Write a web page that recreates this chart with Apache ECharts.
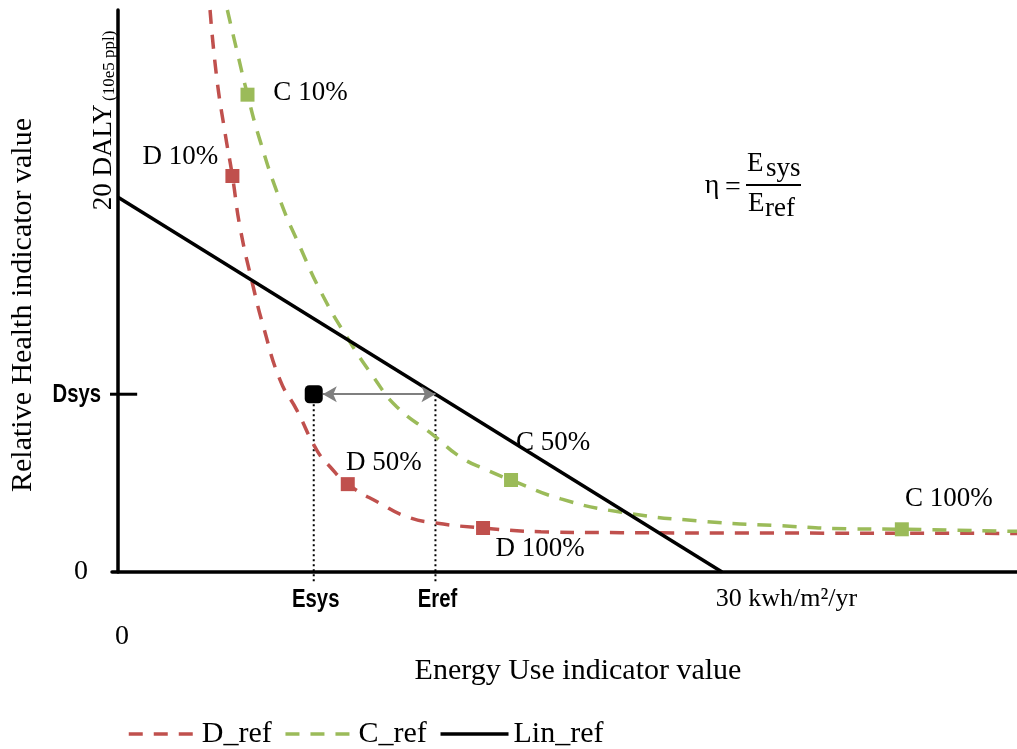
<!DOCTYPE html>
<html><head><meta charset="utf-8">
<script src="https://cdn.jsdelivr.net/npm/echarts@6/dist/echarts.min.js"></script>
<style>html,body{margin:0;padding:0;background:#fff}#c{width:1017px;height:749px}</style>
</head><body><div id="c"></div>
<script>
// ---- data ----
const dRefX = [4.57, 4.90, 5.32, 5.68, 6.06, 6.72, 7.22, 8.05, 8.88, 9.87, 10.53, 11.41, 13.02, 14.34, 15.66, 18.13, 21.0, 25.0, 32.0, 44.65];
const dRefY = [30.0, 26.4, 23.4, 21.14, 18.4, 15.2, 13.1, 10.24, 8.64, 6.51, 5.62, 4.69, 3.66, 2.95, 2.63, 2.35, 2.15, 2.10, 2.08, 2.06];
const cRefX = [5.43, 5.90, 6.43, 7.05, 8.05, 9.04, 10.12, 11.36, 12.68, 13.84, 15.66, 16.99, 18.32, 19.52, 22.0, 24.94, 28.9, 32.9, 36.4, 38.93, 44.65];
const cRefY = [30.0, 27.84, 25.48, 23.04, 19.84, 17.35, 14.86, 12.55, 10.42, 8.82, 7.31, 6.15, 5.44, 4.91, 3.9, 3.2, 2.72, 2.47, 2.30, 2.28, 2.17];
const linX = [0, 30];
const linY = [20, 0];

const dMarkX = [5.68, 11.41, 18.13];
const dMarkY = [21.14, 4.69, 2.35];
const dMarkLabels = ['D 10%', 'D 50%', 'D 100%'];
const cMarkX = [6.43, 19.52, 38.93];
const cMarkY = [25.48, 4.91, 2.28];
const cMarkLabels = ['C 10%', 'C 50%', 'C 100%'];

const Esys = 9.72;
const Dsys = 9.49;
// Eref: energy at which Lin_ref reaches Dsys
const Eref = linX[0] + (linY[0] - Dsys) / (linY[0] - linY[1]) * (linX[1] - linX[0]);

const xTickValues = [0, Esys, Eref, 30];
const xTickLabels = ['0', 'Esys', 'Eref', '30 kwh/m²/yr'];
const yTickValues = [0, Dsys];
const yTickLabels = ['0', 'Dsys'];
const yTopValue = 20;
const yTopLabel = '20 DALY';
const yTopUnit = '(10e5 ppl)';
const seriesNames = ['D_ref', 'C_ref', 'Lin_ref'];

// ---- styles ----
const SERIF = "'Liberation Serif','Times New Roman',serif";
const SANS = "'Liberation Sans Narrow','Liberation Sans',Arial,sans-serif";
const RED = '#C0504D', GREEN = '#9BBB59';
const DASH = [14, 11];
const labelOffsets = {
  'D 10%': [-52, -19], 'D 50%': [36, -21], 'D 100%': [57, 21],
  'C 10%': [63, -2], 'C 50%': [42, -37], 'C 100%': [47, -30]
};
// labels drawn in the reference's narrow bold face (drawn as condensed graphic text)
const narrowLabels = {'Esys': 1, 'Eref': 1, 'Dsys': 1};

function nearestIdx(arr, v) {
  let bi = 0, bd = Infinity;
  arr.forEach((a, i) => { const d = Math.abs(a - v); if (d < bd) { bd = d; bi = i; } });
  return bi;
}
const pairs = (xs, ys) => xs.map((x, i) => [x, ys[i]]);
const markData = (xs, ys, names) => xs.map((x, i) => ({
  value: [x, ys[i]], name: names[i], label: {offset: labelOffsets[names[i]]}
}));

const chart = echarts.init(document.getElementById('c'), null, {renderer: 'canvas'});
chart.setOption({
  animation: false,
  backgroundColor: '#fff',
  grid: {left: 112, right: 0, top: 10, bottom: 177, containLabel: false, outerBoundsMode: 'none'},
  legend: {
    data: [
      {name: seriesNames[0], lineStyle: {type: DASH, width: 3.5, color: RED}},
      {name: seriesNames[1], lineStyle: {type: DASH, width: 3.5, color: GREEN}},
      {name: seriesNames[2], lineStyle: {type: 'solid', width: 3.5, color: '#000'}}
    ],
    left: 127, top: 719, padding: 0, itemWidth: 68, itemHeight: 14, itemGap: 12,
    itemStyle: {opacity: 0},
    textStyle: {fontFamily: SERIF, fontSize: 30, color: '#000'}
  },
  xAxis: {
    type: 'value', min: -0.3, max: 44.65,
    name: 'Energy Use indicator value', nameLocation: 'middle', nameGap: 68,
    nameTextStyle: {fontFamily: SERIF, fontSize: 30, color: '#000', padding: [0, 0, 0, 27]},
    axisLine: {show: true, onZero: true, lineStyle: {color: '#000', width: 3.5}},
    axisTick: {show: false}, splitLine: {show: false},
    axisLabel: {
      customValues: xTickValues, margin: 14, color: '#000',
      formatter: v => {
        const t = xTickLabels[nearestIdx(xTickValues, v)];
        if (narrowLabels[t]) return '';
        return (t === '0' ? '{z|' : '{k|') + t + '}';
      },
      rich: {
        z: {fontFamily: SERIF, fontSize: 28, color: '#000', padding: [37, 0, 0, 8]},
        k: {fontFamily: SERIF, fontSize: 26, color: '#000', padding: [0, 0, 0, 129]}
      }
    }
  },
  yAxis: {
    type: 'value', min: 0, max: 30,
    name: 'Relative Health indicator value', nameLocation: 'middle', nameGap: 74,
    nameTextStyle: {fontFamily: SERIF, fontSize: 30, color: '#000', padding: [0, 28, 0, 0]},
    axisLine: {show: true, onZero: true, lineStyle: {color: '#000', width: 3.5}},
    axisTick: {show: false}, splitLine: {show: false},
    axisLabel: {
      customValues: yTickValues, margin: 16, color: '#000',
      formatter: v => {
        const t = yTickLabels[nearestIdx(yTickValues, v)];
        return narrowLabels[t] ? '' : '{z|' + t + '}';
      },
      rich: {
        z: {fontFamily: SERIF, fontSize: 28, color: '#000', padding: [0, 8, 0, 0]}
      }
    }
  },
  series: [
    {
      name: 'Esys drop', type: 'line', silent: true, clip: false, symbol: 'none', z: 1,
      data: [[Esys, Dsys], [Esys, -0.5]],
      lineStyle: {color: '#000', width: 2, type: [2, 3]}
    },
    {
      name: 'Eref drop', type: 'line', silent: true, clip: false, symbol: 'none', z: 1,
      data: [[Eref, Dsys], [Eref, -0.5]],
      lineStyle: {color: '#000', width: 2, type: [2, 3]}
    },
    {
      name: 'Dsys tick', type: 'line', silent: true, clip: false, symbol: 'none', z: 3,
      data: [[-0.5, Dsys], [0.95, Dsys]],
      lineStyle: {color: '#000', width: 3}
    },
    {
      name: 'D_ref', type: 'line', data: pairs(dRefX, dRefY), smooth: 0.5,
      symbol: 'none', showSymbol: false, z: 2, itemStyle: {color: RED},
      lineStyle: {color: RED, width: 3.5, type: DASH}
    },
    {
      name: 'C_ref', type: 'line', data: pairs(cRefX, cRefY), smooth: 0.5,
      symbol: 'none', showSymbol: false, z: 2, itemStyle: {color: GREEN},
      lineStyle: {color: GREEN, width: 3.5, type: DASH}
    },
    {
      name: 'Lin_ref', type: 'line', data: pairs(linX, linY),
      symbol: 'none', showSymbol: false, z: 3, itemStyle: {color: '#000'},
      lineStyle: {color: '#000', width: 3.5}
    },
    {
      name: 'D markers', type: 'scatter', symbol: 'rect', symbolSize: 14, z: 4,
      itemStyle: {color: RED, opacity: 1},
      data: markData(dMarkX, dMarkY, dMarkLabels),
      label: {show: true, position: 'inside', formatter: '{b}', fontFamily: SERIF, fontSize: 27, color: '#000'}
    },
    {
      name: 'C markers', type: 'scatter', symbol: 'rect', symbolSize: 14, z: 4,
      itemStyle: {color: GREEN, opacity: 1},
      data: markData(cMarkX, cMarkY, cMarkLabels),
      label: {show: true, position: 'inside', formatter: '{b}', fontFamily: SERIF, fontSize: 27, color: '#000'}
    },
    {
      name: 'Esys point', type: 'scatter', symbol: 'roundRect', symbolSize: 18, z: 5,
      itemStyle: {color: '#000', opacity: 1},
      data: [[Esys, Dsys]],
      markLine: {
        silent: true, symbol: ['arrow', 'arrow'], symbolSize: [12, 14],
        lineStyle: {color: '#7F7F7F', width: 2, type: 'solid'},
        label: {show: false},
        data: [[{coord: [Esys + 0.45, Dsys]}, {coord: [Eref, Dsys]}]]
      }
    }
  ]
});

// rotated "20 DALY" label, condensed bold tick labels, and the efficiency formula
const toPx = (x, y) => chart.convertToPixel({xAxisIndex: 0, yAxisIndex: 0}, [x, y]);
const p20 = toPx(0, yTopValue);
const graphics = [
  {
    type: 'text', x: p20[0] - 14, y: p20[1] + 13, rotation: Math.PI / 2, z: 10,
    style: {
      text: '{a|' + yTopLabel + '} {b|' + yTopUnit + '}', textAlign: 'left', textVerticalAlign: 'middle',
      rich: {
        a: {fontFamily: SERIF, fontSize: 27, fill: '#000', color: '#000'},
        b: {fontFamily: SERIF, fontSize: 17, fill: '#000', color: '#000', verticalAlign: 'bottom'}
      }
    }
  },
  {type: 'text', x: 712, y: 186, style: {text: 'η', font: '28px ' + SERIF, fill: '#000', textAlign: 'center', textVerticalAlign: 'middle'}},
  {type: 'text', x: 733, y: 188, style: {text: '=', font: '28px ' + SERIF, fill: '#000', textAlign: 'center', textVerticalAlign: 'middle'}},
  {type: 'line', shape: {x1: 746, y1: 185, x2: 801, y2: 185}, style: {stroke: '#000', lineWidth: 2}},
  {type: 'text', x: 747, y: 164, style: {text: 'E', font: '27px ' + SERIF, fill: '#000', textAlign: 'left', textVerticalAlign: 'middle'}},
  {type: 'text', x: 766, y: 169, style: {text: 'sys', font: '27px ' + SERIF, fill: '#000', textAlign: 'left', textVerticalAlign: 'middle'}},
  {type: 'text', x: 748, y: 204, style: {text: 'E', font: '27px ' + SERIF, fill: '#000', textAlign: 'left', textVerticalAlign: 'middle'}},
  {type: 'text', x: 765, y: 209, style: {text: 'ref', font: '27px ' + SERIF, fill: '#000', textAlign: 'left', textVerticalAlign: 'middle'}}
];
xTickValues.forEach((v, i) => {
  const t = xTickLabels[i];
  if (!narrowLabels[t]) return;
  const p = toPx(v, 0);
  graphics.push({type: 'text', x: p[0] + 2, y: p[1] + 28, scaleX: 0.78, z: 10,
    style: {text: t, font: 'bold 26px ' + SANS, fill: '#000', textAlign: 'center', textVerticalAlign: 'middle'}});
});
yTickValues.forEach((v, i) => {
  const t = yTickLabels[i];
  if (!narrowLabels[t]) return;
  const p = toPx(0, v);
  graphics.push({type: 'text', x: p[0] - 17, y: p[1] + 1, scaleX: 0.78, z: 10,
    style: {text: t, font: 'bold 26px ' + SANS, fill: '#000', textAlign: 'right', textVerticalAlign: 'middle'}});
});
chart.setOption({graphic: graphics});
</script>
</body></html>
